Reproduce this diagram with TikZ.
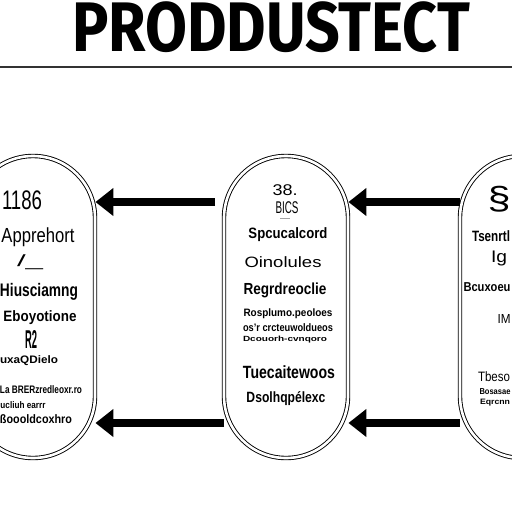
\documentclass[tikz,border=0pt]{standalone}
\usepackage{fontspec}
\setmainfont{Liberation Sans}
\newfontfamily\titlefont{Fira Sans}
\usetikzlibrary{arrows.meta,positioning}
\newcommand{\fitline}[3]{\resizebox*{#1pt}{#2pt}{#3}}
\tikzset{
  capsule/.style={draw, line width=0.9pt, double, double distance=2.6pt,
    rounded corners=61.9pt, minimum width=124pt, minimum height=302pt, inner sep=0pt},
  bigarrow/.style={line width=8pt, -{Triangle[length=18pt,width=27pt]}},
  txt/.style={inner sep=0pt, font=\bfseries},
  txtreg/.style={inner sep=0pt},
}

\begin{document}
\begin{tikzpicture}[x=1pt,y=-1pt]
        \useasboundingbox (0,0) rectangle (512,512);
        \clip (0,0) rectangle (512,512);
        \fill[white] (0,0) rectangle (512,512);
        % title and rule
        \node[inner sep=0pt] (title) at (271,27.5) {\fitline{398}{51}{\titlefont\bfseries PRODDUSTECT}};
        \draw[line width=1.3pt, black!80] (0,67) -- (512,67);
        % the three capsules
        \node[capsule] (left) at (33,307) {};
        \node[capsule] (mid) at (286,307) {};
        \node[capsule] (right) at (522,307) {};
        % left capsule
        \node[txtreg] (l1) at (22,200) {\fitline{40}{19}{1186}};
        \node[txtreg] (l2) at (38,237) {\fitline{73}{19}{Apprehort}};
        \node[txtreg] (l3) at (30,262) {\fitline{26}{15}{/\_}};
        \node[txt] (l4) at (39,292) {\fitline{78}{17}{Hiusciamng}};
        \node[txt] (l5) at (40,318) {\fitline{73}{14}{Eboyotione}};
        \node[txt] (l6) at (31,339) {\fitline{12}{18}{R2}};
        \node[txt] (l7) at (29,361) {\fitline{58}{10}{uxaQDielo}};
        \node[txt] (l8) at (41,390) {\fitline{82}{8}{La BRERzredleoxr.ro}};
        \node[txt] (l9) at (23,405) {\fitline{45}{7}{ucliuh earrr}};
        \node[txt] (l10) at (36,419) {\fitline{72}{9}{ßoooldcoxhro}};
        % middle capsule
        \node[txtreg] (m1) at (285,190) {\fitline{25}{11}{38.}};
        \node[txtreg] (m2) at (287,208) {\fitline{23}{12}{BICS}};
        \node[txtreg] (m3) at (285,220) {\fitline{10}{1.5}{--}};
        \node[txt] (m4) at (288,235) {\fitline{79}{14}{Spcucalcord}};
        \node[txtreg] (m5) at (283,262) {\fitline{77}{11}{Oinolules}};
        \node[txt] (m6) at (285,290) {\fitline{83}{15}{Regrdreoclie}};
        \node[txt] (m7) at (288,314) {\fitline{89}{10}{Rosplumo.peoloes}};
        \node[txt] (m8) at (288,328) {\fitline{90}{8}{os'r crcteuwoldueos}};
        \node[txt] (m9) at (285,340) {\fitline{84}{7}{Dcouorh-cvnqoro}};
        \node[txt] (m10) at (289,372) {\fitline{92}{13}{Tuecaitewoos}};
        \node[txt] (m11) at (286,399) {\fitline{79}{14}{Dsolhqpélexc}};
        % right capsule
        \node[txtreg] (r1) at (499,199) {\fitline{23}{26}{\S}};
        \node[txt] (r2) at (491,236) {\fitline{38}{11}{Tsenrtl}};
        \node[txtreg] (r3) at (499,258) {\fitline{16}{15}{Ig}};
        \node[txt] (r4) at (487,287) {\fitline{47}{9}{Bcuxoeu}};
        \node[txtreg] (r5) at (504,319) {\fitline{13}{9}{IM}};
        \node[txtreg] (r6) at (494,377) {\fitline{32}{10}{Tbeso}};
        \node[txt] (r7) at (495,392) {\fitline{31}{6}{Bosasae}};
        \node[txt] (r8) at (495,403) {\fitline{30}{7}{Eqrcnn}};
        % arrows
        \coordinate (a1) at (215,202);
        \coordinate (a2) at (460,202);
        \coordinate (a3) at (224,423);
        \coordinate (a4) at (460,423);
        \draw[bigarrow] (a1) -- (left.east |- a1);
        \draw[bigarrow] (a2) -- (mid.east |- a2);
        \draw[bigarrow] (a3) -- (left.east |- a3);
        \draw[bigarrow] (a4) -- (mid.east |- a4);
    \end{tikzpicture}
\end{document}
